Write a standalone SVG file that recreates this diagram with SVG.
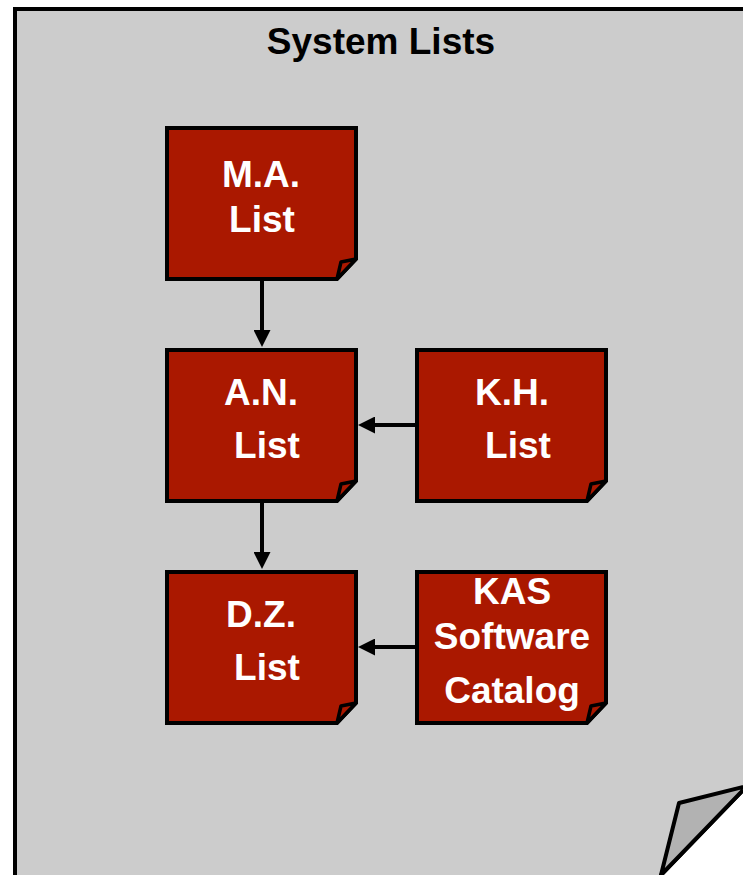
<svg xmlns="http://www.w3.org/2000/svg" width="743" height="875" viewBox="0 0 743 875">
<style>
.page{fill:#cccccc;stroke:#000;stroke-width:4;stroke-linejoin:miter}
.curl{fill:#b2b2b2;stroke:#000;stroke-width:4;stroke-linejoin:round}
.note{fill:#aa1800;stroke:#000;stroke-width:4;stroke-linejoin:miter}
.fold{fill:#aa1800;stroke:#000;stroke-width:3.5;stroke-linejoin:round}
.conn{stroke:#000;stroke-width:4;fill:none;marker-end:url(#arrow)}
text{font-family:"Liberation Sans",Arial,sans-serif;font-weight:700;text-anchor:middle}
.t{font-size:37px;fill:#fff}
.title{font-size:37px;fill:#000}
</style>
<defs>
<marker id="arrow" markerUnits="userSpaceOnUse" markerWidth="17" markerHeight="17" refX="7" refY="8.5" orient="auto"><path d="M0 0L17 8.5L0 17Z" fill="#000"/></marker>
<g id="n"><path class="note" d="M167 128H356V259L337 279H167Z"/><path class="fold" d="M337 279L341 262L356 259Z"/></g>
</defs>
<rect width="743" height="875" fill="#fff"/>
<g id="page">
<path class="page" d="M15 9H747V786L661 875V879H15Z"/>
<path class="curl" d="M661 875L679 803L747 786Z"/>
<text class="title" x="381" y="54">System Lists</text>
</g>
<g id="connectors">
<path class="conn" d="M262 279V337"/>
<path class="conn" d="M417 425H368"/>
<path class="conn" d="M262 501V559"/>
<path class="conn" d="M417 647H368"/>
</g>
<g id="ma"><use href="#n"/><text class="t" x="261" y="187">M.A.</text><text class="t" x="262" y="232">List</text></g>
<g id="an"><use href="#n" y="222"/><text class="t" x="261" y="405">A.N.</text><text class="t" x="267" y="458">List</text></g>
<g id="kh"><use href="#n" x="250" y="222"/><text class="t" x="512" y="405">K.H.</text><text class="t" x="518" y="458">List</text></g>
<g id="dz"><use href="#n" y="444"/><text class="t" x="261" y="627">D.Z.</text><text class="t" x="267" y="680">List</text></g>
<g id="kas"><use href="#n" x="250" y="444"/><text class="t" x="512" y="604">KAS</text><text class="t" x="512" y="649">Software</text><text class="t" x="512" y="703">Catalog</text></g>
</svg>
